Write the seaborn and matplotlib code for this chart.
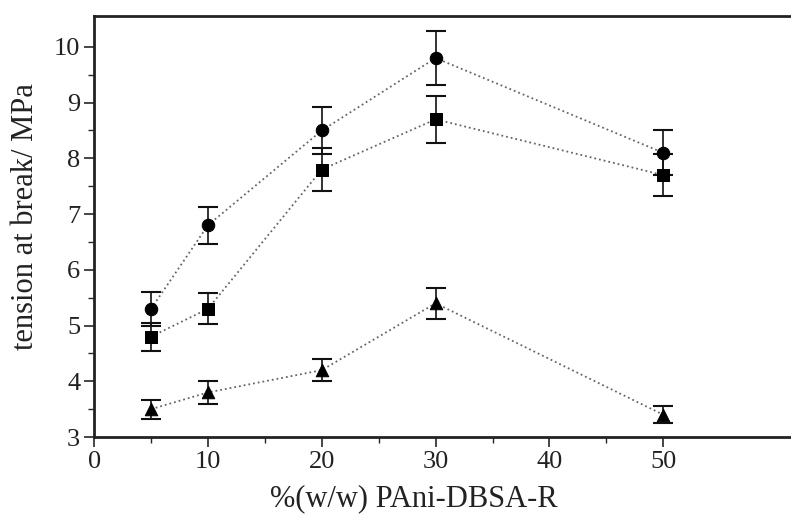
import numpy as np
import pandas as pd
import matplotlib
matplotlib.use("Agg")
import matplotlib.pyplot as plt
from matplotlib.ticker import FixedLocator
import seaborn as sns

# PAni-DBSA-R content, % (w/w)
conc = [5, 10, 20, 30, 50]

# tension at break (MPa) and error half-widths for the three series
circle_val = [5.3, 6.8, 8.5, 9.8, 8.1]
circle_err = [0.3, 0.33, 0.42, 0.48, 0.4]
square_val = [4.8, 5.3, 7.8, 8.7, 7.7]
square_err = [0.25, 0.28, 0.38, 0.42, 0.38]
triangle_val = [3.5, 3.8, 4.2, 5.4, 3.4]
triangle_err = [0.17, 0.2, 0.2, 0.28, 0.15]

x_ticks = [0, 10, 20, 30, 40, 50]
x_minor = [5, 15, 25, 35, 45]
y_ticks = [3, 4, 5, 6, 7, 8, 9, 10]

sns.set_style("ticks")
plt.rcParams['font.family'] = ['Liberation Serif', 'DejaVu Serif']

fig = plt.figure(figsize=(7.91, 5.24), dpi=100)
ax = fig.add_axes([0.119, 0.166, 0.885, 0.803])

series = [("circle", circle_val, circle_err, "o", 9),
          ("square", square_val, square_err, "s", 9),
          ("triangle", triangle_val, triangle_err, "^", 9)]

for name, vals, errs, mk, ms in series:
    df = pd.DataFrame({"x": conc, "y": vals})
    sns.lineplot(data=df, x="x", y="y", ax=ax, color="#666666", linestyle=":",
                 linewidth=1.3, zorder=1)
    ax.errorbar(conc, vals, yerr=errs, fmt="none", ecolor="#111111",
                elinewidth=1.2, capsize=7, capthick=1.5, zorder=2)
    sns.scatterplot(data=df, x="x", y="y", ax=ax, marker=mk, s=ms ** 2,
                    color="black", edgecolor="black", zorder=3)

ax.set_xlim(0, 61.5)
ax.set_ylim(3, 10.55)
ax.xaxis.set_major_locator(FixedLocator(x_ticks))
ax.xaxis.set_minor_locator(FixedLocator(x_minor))
ax.yaxis.set_major_locator(FixedLocator(y_ticks))
ax.yaxis.set_minor_locator(FixedLocator([v + 0.5 for v in y_ticks[:-1]]))
ax.tick_params(which="major", length=7, width=1.2, labelsize=19,
               direction="out", pad=3, labelcolor="#222222")
ax.tick_params(which="minor", length=4, width=1, direction="out")

for s in ["left", "bottom", "top"]:
    ax.spines[s].set_linewidth(2)
    ax.spines[s].set_color("#222222")
ax.spines["right"].set_visible(False)

ax.set_xlabel("%(w/w) PAni-DBSA-R", fontsize=22, color="#222222")
ax.set_ylabel("tension at break/ MPa", fontsize=22, color="#222222")
ax.xaxis.set_label_coords(0.457, -0.112)
ax.yaxis.set_label_coords(-0.078, 0.525)

fig.savefig("out.png", dpi=100)
